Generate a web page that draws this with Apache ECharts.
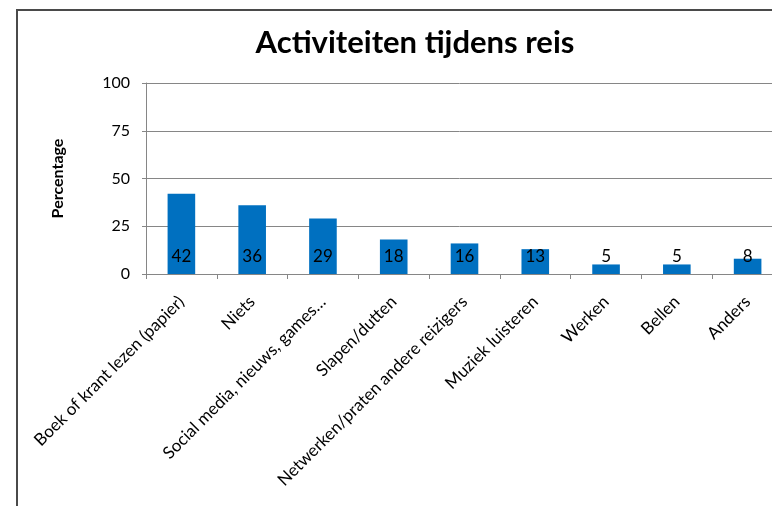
<!DOCTYPE html>
<html>
<head>
<meta charset="utf-8">
<script src="https://cdn.jsdelivr.net/npm/echarts@6/dist/echarts.min.js"></script>
<style>
  html, body { margin: 0; padding: 0; background: #fff; }
  #chart { width: 772px; height: 506px; }
</style>
</head>
<body>
<div id="chart"></div>
<script>
// data
var categories = [
  'Boek of krant lezen (papier)',
  'Niets',
  'Social media, nieuws, games…',
  'Slapen/dutten',
  'Netwerken/praten andere reizigers',
  'Muziek luisteren',
  'Werken',
  'Bellen',
  'Anders'
];
var percentages = [42, 36, 29, 18, 16, 13, 5, 5, 8];
var yTicks = [0, 25, 50, 75, 100];

var chart = echarts.init(document.getElementById('chart'));
chart.setOption({
  backgroundColor: '#fff',
  animation: false,
  textStyle: { fontFamily: 'Lato, "Open Sans", sans-serif' },
  title: {
    text: 'Activiteiten tijdens reis',
    left: 410,
    textAlign: 'center',
    top: 22,
    textStyle: { fontSize: 31, fontWeight: 'bold', color: '#000', fontFamily: 'Lato, sans-serif' }
  },
  graphic: [{
    type: 'rect',
    shape: { x: 17, y: 10, width: 900, height: 700 },
    style: { fill: 'none', stroke: '#4a4a4a', lineWidth: 2 },
    silent: true
  }],
  // plot runs past the right edge of the picture, like the reference
  grid: { left: 146, top: 83, width: 637, height: 191, outerBoundsMode: 'none', containLabel: false },
  xAxis: {
    type: 'category',
    data: categories,
    axisLine: { lineStyle: { color: '#868686', width: 1 } },
    axisTick: { show: true, length: 5, lineStyle: { color: '#868686' } },
    axisLabel: { interval: 0, rotate: 45, margin: 25, fontSize: 17, color: '#000' }
  },
  yAxis: {
    type: 'value',
    min: yTicks[0],
    max: yTicks[yTicks.length - 1],
    interval: yTicks[1] - yTicks[0],
    name: 'Percentage',
    nameLocation: 'middle',
    nameRotate: 90,
    nameGap: 80,
    nameTextStyle: { fontSize: 16, fontWeight: 'bold', color: '#000' },
    axisLine: { show: true, lineStyle: { color: '#868686' } },
    axisTick: { show: true, length: 4, lineStyle: { color: '#868686' } },
    axisLabel: { fontSize: 16, color: '#000', margin: 16 },
    splitLine: { lineStyle: { color: '#868686', width: 1 } }
  },
  series: [{
    name: 'Percentage',
    type: 'bar',
    data: percentages,
    barWidth: '39%',
    itemStyle: { color: '#0070C0' },
    label: {
      show: true,
      position: 'insideBottom',
      distance: 9,
      fontSize: 17,
      color: '#000'
    }
  }]
});
</script>
</body>
</html>
